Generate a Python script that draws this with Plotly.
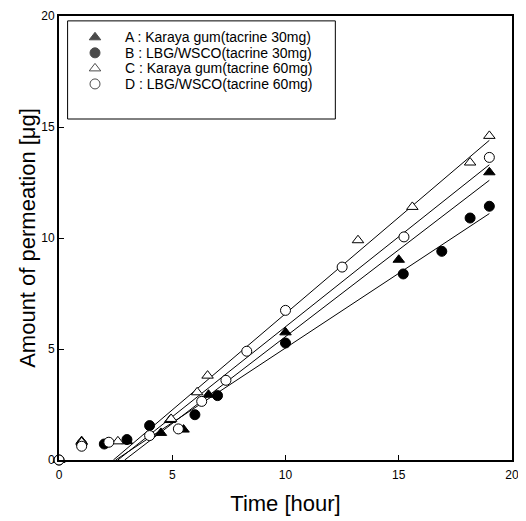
import plotly.graph_objects as go

# ---- data ----
labels = ["A : Karaya gum(tacrine 30mg)", "B : LBG/WSCO(tacrine 30mg)",
          "C : Karaya gum(tacrine 60mg)", "D : LBG/WSCO(tacrine 60mg)"]

a_t = [0, 1, 3, 4.5, 4.9, 5.5, 6.6, 10, 15, 19]
a_y = [0, 0.85, 0.85, 1.22, 1.8, 1.37, 2.94, 5.75, 9.02, 12.96]

b_t = [0, 1, 2, 3, 4, 6, 7, 10, 15.2, 16.9, 18.15, 19]
b_y = [0, 0.72, 0.72, 0.92, 1.55, 2.04, 2.9, 5.27, 8.38, 9.4, 10.9, 11.43]

c_t = [0, 1, 2.6, 4.95, 6.1, 6.56, 13.2, 15.6, 18.15, 19]
c_y = [0, 0.8, 0.84, 1.85, 3.05, 3.8, 9.9, 11.4, 13.4, 14.6]

d_t = [0, 1, 2.2, 4.0, 5.27, 6.3, 7.37, 8.29, 10, 12.5, 15.23, 19]
d_y = [0, 0.62, 0.8, 1.1, 1.4, 2.64, 3.59, 4.9, 6.74, 8.69, 10.05, 13.63]

# regression lines: x-intercept and value at the last time point
fit_x0 = [2.9, 2.5, 2.4, 2.6]
fit_x1 = [19, 19, 19, 19]
fit_y1 = [12.6, 11.1, 14.4, 13.3]

x_ticks = [0, 5, 10, 15, 20]
y_ticks = [0, 5, 10, 15, 20]

# ---- styles ----
symbols = ["triangle-up", "circle", "triangle-up", "circle"]
fills = ["black", "black", "white", "white"]
sizes = [10, 10, 10, 10]
series = [(a_t, a_y), (b_t, b_y), (c_t, c_y), (d_t, d_y)]

fig = go.Figure()

for x0, x1, y1 in zip(fit_x0, fit_x1, fit_y1):
    fig.add_trace(go.Scatter(x=[x0, x1], y=[0, y1], mode="lines",
                             line=dict(color="black", width=1),
                             showlegend=False, hoverinfo="skip"))

for (t, y), sym, fc, sz in zip(series, symbols, fills, sizes):
    fig.add_trace(go.Scatter(x=t, y=y, mode="markers", cliponaxis=False,
                             marker=dict(symbol=sym, size=sz, color=fc,
                                         line=dict(color="black", width=1)),
                             showlegend=False))

# ---- manual legend (compact row spacing like the reference) ----
leg_rows = [0.952, 0.917, 0.882, 0.847]
leg_mx = 0.0795
leg_tx = 0.141
fig.add_trace(go.Scatter(x=[leg_mx] * 4, y=leg_rows, mode="markers",
                         xaxis="x2", yaxis="y2", showlegend=False, hoverinfo="skip",
                         cliponaxis=False,
                         marker=dict(symbol=symbols, size=sizes, color=fills,
                                     line=dict(color="black", width=1))))
for lab, ry in zip(labels, leg_rows):
    fig.add_annotation(x=leg_tx, y=ry, xref="paper", yref="paper", text=lab,
                       showarrow=False, xanchor="left", yanchor="middle",
                       font=dict(family="Liberation Sans, Arial", size=14, color="black"))
fig.add_shape(type="rect", xref="paper", yref="paper", x0=0.019, x1=0.610,
              y0=0.768, y1=0.989, line=dict(color="black", width=1))

font = "Liberation Sans, Arial"
# page body adds an 8px offset, so the figure is 8px smaller on each side
fig.update_layout(
    width=518, height=513,
    margin=dict(l=51, r=14, t=8, b=61),
    paper_bgcolor="white", plot_bgcolor="white",
    font=dict(family=font, color="black"),
    xaxis=dict(range=[0, 20], tickvals=x_ticks, ticktext=[str(v) for v in x_ticks],
               ticks="inside", ticklen=5, tickwidth=1, tickcolor="black",
               showline=True, linecolor="black", linewidth=2, mirror=True,
               showgrid=False, zeroline=False, tickfont=dict(size=12), automargin=False,
               ticklabelstandoff=3, ticklabeloverflow="allow",
               title=dict(text="Time [hour]", font=dict(size=22), standoff=14)),
    yaxis=dict(range=[0, 20], tickvals=y_ticks, ticktext=[str(v) for v in y_ticks],
               ticks="inside", ticklen=5, tickwidth=1, tickcolor="black",
               showline=True, linecolor="black", linewidth=2, mirror=True,
               showgrid=False, zeroline=False, tickfont=dict(size=12), automargin=False,
               ticklabeloverflow="allow",
               title=dict(text="Amount of permeation [μg]", font=dict(size=22), standoff=0)),
    xaxis2=dict(range=[0, 1], overlaying="x", visible=False, fixedrange=True),
    yaxis2=dict(range=[0, 1], overlaying="y", visible=False, fixedrange=True),
    showlegend=False,
)

fig.write_html("out.html")
